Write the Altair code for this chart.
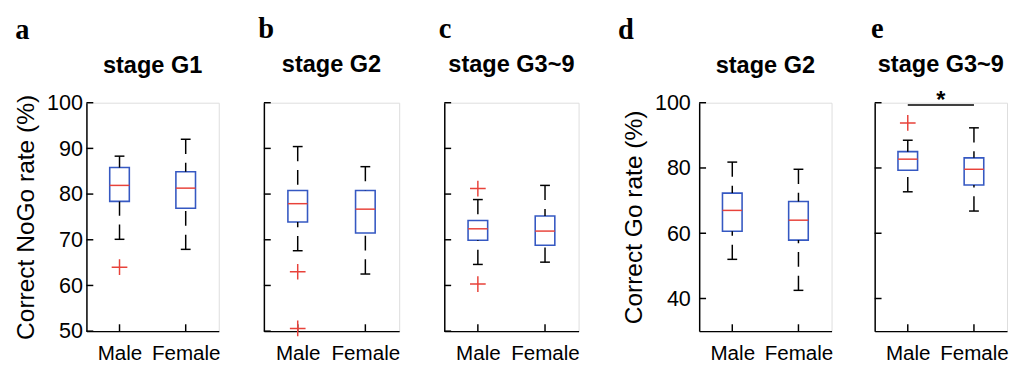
import altair as alt
import pandas as pd

categories = ["Male", "Female"]

# ---- panel a : Correct NoGo rate, stage G1
a_lo = [70.1, 67.9]
a_q1 = [78.4, 76.9]
a_med = [81.9, 81.3]
a_q3 = [85.8, 84.9]
a_hi = [88.3, 92.0]
a_out_sex = ["Male"]
a_out_val = [64.0]

# ---- panel b : Correct NoGo rate, stage G2
b_lo = [67.6, 62.5]
b_q1 = [73.9, 71.5]
b_med = [77.9, 76.7]
b_q3 = [80.8, 80.8]
b_hi = [90.4, 86.0]
b_out_sex = ["Male", "Male"]
b_out_val = [63.0, 50.6]

# ---- panel c : Correct NoGo rate, stage G3~9
c_lo = [64.6, 65.1]
c_q1 = [69.9, 68.8]
c_med = [72.4, 71.9]
c_q3 = [74.2, 75.2]
c_hi = [78.8, 81.9]
c_out_sex = ["Male", "Male"]
c_out_val = [81.2, 60.3]

# ---- panel d : Correct Go rate, stage G2
d_lo = [52.0, 42.5]
d_q1 = [60.6, 57.9]
d_med = [67.0, 64.0]
d_q3 = [72.3, 69.7]
d_hi = [81.8, 79.6]
d_out_sex = []
d_out_val = []

# ---- panel e : Correct Go rate, stage G3~9
e_lo = [72.7, 66.8]
e_q1 = [79.3, 74.8]
e_med = [82.7, 79.6]
e_q3 = [85.0, 83.1]
e_hi = [88.5, 92.3]
e_out_sex = ["Male"]
e_out_val = [93.8]
e_sig_from = ["Male"]
e_sig_to = ["Female"]
e_sig_y = [99.3]
e_sig_label = ["*"]
e_sig_label_y = [101.6]

nogo_ticks = [50, 60, 70, 80, 90, 100]
go_ticks = [40, 60, 80, 100]

BLUE = "#3558c2"
RED = "#e8423a"
FONT = "Liberation Sans"
PLUS = "M-1,0L1,0M0,-1L0,1"
H = 233
TICK = 7


def panel(letter, stage, lo, q1, med, q3, hi, out_sex, out_val, domain, ticks,
          width, show_labels, ytitle, label_pad, letter_dx, stage_y,
          sig=None):
    box = pd.DataFrame({"sex": categories, "lo": lo, "q1": q1, "med": med,
                        "q3": q3, "hi": hi})
    whisk = pd.DataFrame({
        "sex": categories + categories,
        "y1": hi + lo,
        "y2": q3 + q1,
    })
    caps = pd.DataFrame({"sex": categories + categories, "v": hi + lo})
    outs = pd.DataFrame({"sex": out_sex, "v": out_val})
    ytk = pd.DataFrame({"v": ticks})
    xtk = pd.DataFrame({"sex": categories})

    xenc = alt.X("sex:N", sort=categories,
                 scale=alt.Scale(type="point", padding=0.5, domain=categories),
                 axis=alt.Axis(title=None, labelAngle=0, labelFontSize=21,
                               labelFont=FONT, labelColor="black",
                               labelAlign="center", labelBaseline="top",
                               labelPadding=12, ticks=False,
                               domainColor="black", domainWidth=1.5,
                               grid=False))
    yaxis = alt.Axis(values=ticks, labels=show_labels, labelFontSize=22,
                     labelFont=FONT, labelColor="black", labelPadding=label_pad,
                     ticks=False, domainColor="black", domainWidth=1.5,
                     grid=False,
                     title=ytitle if ytitle else None, titleFont=FONT,
                     titleFontSize=25, titleFontWeight="normal",
                     titleColor="black", titlePadding=8)
    yscale = alt.Scale(domain=domain, nice=False, zero=False)

    base_box = alt.Chart(box).encode(x=xenc)
    bars = base_box.mark_bar(size=20, fillOpacity=0, stroke=BLUE,
                             strokeWidth=1.6).encode(
        y=alt.Y("q1:Q", scale=yscale, axis=yaxis), y2="q3:Q")
    meds = base_box.mark_tick(size=20, thickness=1.5, color=RED,
                              opacity=1).encode(y=alt.Y("med:Q"))
    whiskers = alt.Chart(whisk).mark_rule(
        color="black", strokeWidth=1.5, strokeDash=[15, 9]).encode(
        x=alt.X("sex:N", sort=categories), y="y1:Q", y2="y2:Q")
    capm = alt.Chart(caps).mark_tick(size=10, thickness=1.5, color="black",
                                     opacity=1).encode(
        x=alt.X("sex:N", sort=categories), y="v:Q")
    # inward tick marks (MATLAB style)
    yticks_m = alt.Chart(ytk).mark_rule(color="black", strokeWidth=1.5).encode(
        y="v:Q", x=alt.value(0), x2=alt.value(TICK))
    xticks_m = alt.Chart(xtk).mark_rule(color="black", strokeWidth=1.5).encode(
        x=alt.X("sex:N", sort=categories), y=alt.value(H), y2=alt.value(H - TICK))
    layers = [bars, whiskers, capm, meds, yticks_m, xticks_m]
    if len(out_val):
        pts = alt.Chart(outs).mark_point(shape=PLUS, size=256, filled=False,
                                         stroke=RED, strokeWidth=1.5,
                                         opacity=1).encode(
            x=alt.X("sex:N", sort=categories), y="v:Q")
        layers.append(pts)
    if sig is not None:
        sdf = pd.DataFrame({"a": sig[0], "b": sig[1], "y": sig[2],
                            "t": sig[3], "ty": sig[4]})
        srule = alt.Chart(sdf).mark_rule(color="black", strokeWidth=1.5).encode(
            x=alt.X("a:N", sort=categories), x2="b", y="y:Q")
        stext = alt.Chart(sdf).mark_text(fontSize=24, font=FONT,
                                         fontWeight="bold", baseline="middle",
                                         dx=width / 4, dy=4,
                                         color="black").encode(
            x=alt.X("a:N", sort=categories), y="ty:Q", text="t:N")
        layers += [srule, stext]
    stage_df = pd.DataFrame({"t": [stage]})
    stage_txt = alt.Chart(stage_df).mark_text(
        fontSize=24, font=FONT, fontWeight="bold", align="center",
        baseline="alphabetic", color="black").encode(
        x=alt.value(width / 2), y=alt.value(stage_y), text="t:N")
    layers.append(stage_txt)

    return alt.layer(*layers).properties(
        width=width, height=H,
        title=alt.TitleParams(letter, anchor="start", frame="bounds",
                              font="Liberation Serif", fontSize=29,
                              fontWeight="bold", color="black",
                              dx=letter_dx, offset=10))


pa = panel("a", "stage G1", a_lo, a_q1, a_med, a_q3, a_hi, a_out_sex,
           a_out_val, [50, 100], nogo_ticks, 135, True,
           "Correct NoGo rate (%)", 4, 1, -30)
pb = panel("b", "stage G2", b_lo, b_q1, b_med, b_q3, b_hi, b_out_sex,
           b_out_val, [50, 100], nogo_ticks, 138, False, None, 4, -5, -31)
pc = panel("c", "stage G3~9", c_lo, c_q1, c_med, c_q3, c_hi, c_out_sex,
           c_out_val, [50, 100], nogo_ticks, 137, False, None, 4, -5, -31)
pd_ = panel("d", "stage G2", d_lo, d_q1, d_med, d_q3, d_hi, d_out_sex,
            d_out_val, [30, 100], go_ticks, 135, True,
            "Correct Go rate (%)", 9, -4, -30)
pe = panel("e", "stage G3~9", e_lo, e_q1, e_med, e_q3, e_hi, e_out_sex,
           e_out_val, [30, 100], go_ticks, 135, False, None, 4, -3, -31,
           sig=(e_sig_from, e_sig_to, e_sig_y, e_sig_label, e_sig_label_y))

g1 = alt.hconcat(pa, pb, pc, spacing=46, bounds="flush")
g2 = alt.hconcat(pd_, pe, spacing=44, bounds="flush")
chart = alt.hconcat(g1, g2, spacing=37).properties(
    padding={"left": 5, "top": 3, "right": 0, "bottom": 0}
).configure_view(stroke="transparent", strokeWidth=0).configure(
    background="white")

chart.save("out.html", embed_options={"renderer": "svg", "actions": False})
